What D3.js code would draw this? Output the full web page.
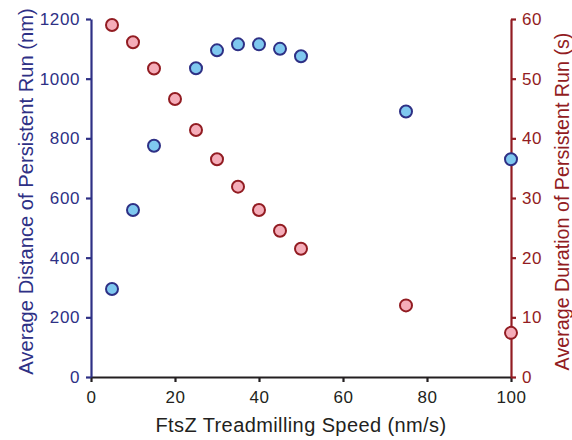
<!DOCTYPE html>
<html lang="en">
<head>
<meta charset="utf-8" />
<title>Persistent Run</title>
<style>
  body { margin: 0; background: #fff; }
  svg text { font-family: "Liberation Sans", Arial, sans-serif; }
</style>
</head>
<body>
<div id="graph"></div>
<script src="https://cdn.jsdelivr.net/npm/d3@7"></script>
<script>
// treadmilling speed (nm/s)
var speeds = [5, 10, 15, 20, 25, 30, 35, 40, 45, 50, 75, 100];
// average distance of persistent run (nm) - no point at 20
var distance = [295, 560, 775, null, 1035, 1095, 1115, 1115, 1100, 1075, 890, 730];
// average duration of persistent run (s)
var duration = [59, 56.1, 51.7, 46.6, 41.4, 36.5, 31.9, 28.0, 24.5, 21.5, 12, 7.4];

var xTicks = [0, 20, 40, 60, 80, 100];
var yLeftTicks = [0, 200, 400, 600, 800, 1000, 1200];
var yRightTicks = [0, 10, 20, 30, 40, 50, 60];

var W = 572, H = 440;
var margin = { top: 19, right: 61, bottom: 63, left: 91 };
var width = W - margin.left - margin.right,
    height = H - margin.top - margin.bottom;

var navy = "#2e3085", maroon = "#921c22", dark = "#231f20";

var x = d3.scaleLinear().domain([0, 100]).range([0, width]);
var yL = d3.scaleLinear().domain([0, 1200]).range([height, 0]);
var yR = d3.scaleLinear().domain([0, 60]).range([height, 0]);

var svg = d3.select("#graph").append("svg")
    .attr("width", W)
    .attr("height", H)
  .append("g")
    .attr("transform", "translate(" + margin.left + "," + margin.top + ")");

function styleAxis(g, color) {
    g.select(".domain").attr("stroke", color).attr("stroke-width", 2.2);
    g.selectAll(".tick line").attr("stroke", color).attr("stroke-width", 2.2);
    g.selectAll(".tick text")
        .attr("fill", color)
        .attr("font-size", 17)
        .attr("letter-spacing", 0.6);
}

var gx = svg.append("g")
    .attr("transform", "translate(0," + height + ")")
    .call(d3.axisBottom(x).tickValues(xTicks).tickFormat(d3.format("d"))
        .tickSize(5).tickSizeOuter(0).tickPadding(9));
styleAxis(gx, dark);

var gl = svg.append("g")
    .call(d3.axisLeft(yL).tickValues(yLeftTicks).tickFormat(d3.format("d"))
        .tickSize(5).tickSizeOuter(0).tickPadding(6));
styleAxis(gl, navy);

var gr = svg.append("g")
    .attr("transform", "translate(" + width + ",0)")
    .call(d3.axisRight(yR).tickValues(yRightTicks).tickFormat(d3.format("d"))
        .tickSize(5).tickSizeOuter(0).tickPadding(6));
styleAxis(gr, maroon);

// axis titles
svg.append("text")
    .attr("x", width / 2)
    .attr("y", height + 55)
    .attr("text-anchor", "middle")
    .attr("font-size", 20)
    .attr("letter-spacing", 0.4)
    .attr("fill", dark)
    .text("FtsZ Treadmilling Speed (nm/s)");

svg.append("text")
    .attr("transform", "translate(" + (-58) + "," + (191.5 - margin.top) + ") rotate(-90)")
    .attr("text-anchor", "middle")
    .attr("font-size", 20.2)
    .attr("fill", navy)
    .text("Average Distance of Persistent Run (nm)");

svg.append("text")
    .attr("transform", "translate(" + (width + 58) + "," + (201.5 - margin.top) + ") rotate(-90)")
    .attr("text-anchor", "middle")
    .attr("font-size", 19.7)
    .attr("fill", maroon)
    .text("Average Duration of Persistent Run (s)");

// duration points (right axis)
svg.append("g").selectAll("circle")
    .data(speeds.map(function (s, i) { return { s: s, v: duration[i] }; }))
    .enter().append("circle")
    .attr("cx", function (d) { return x(d.s); })
    .attr("cy", function (d) { return yR(d.v); })
    .attr("r", 6)
    .attr("fill", "#f5adb9")
    .attr("stroke", maroon)
    .attr("stroke-width", 2);

// distance points (left axis)
svg.append("g").selectAll("circle")
    .data(speeds.map(function (s, i) { return { s: s, v: distance[i] }; })
        .filter(function (d) { return d.v != null; }))
    .enter().append("circle")
    .attr("cx", function (d) { return x(d.s); })
    .attr("cy", function (d) { return yL(d.v); })
    .attr("r", 6)
    .attr("fill", "#7fc8ef")
    .attr("stroke", navy)
    .attr("stroke-width", 2);
</script>
</body>
</html>
